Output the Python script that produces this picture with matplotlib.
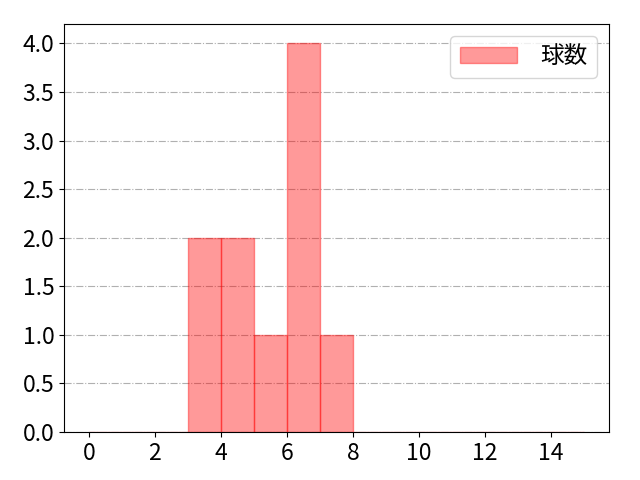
import numpy as np
import matplotlib
matplotlib.use("Agg")
import matplotlib.pyplot as plt

plt.rcParams['font.family'] = ['Noto Sans CJK JP', 'DejaVu Sans']
plt.rcParams['font.size'] = 16.5

# bin edges and counts
bin_edges = list(range(0, 16))
counts = [0, 0, 0, 2, 2, 1, 4, 1, 0, 0, 0, 0, 0, 0, 0]
label = '球数'

fig, ax = plt.subplots(figsize=(6.4, 4.8), dpi=100)
ax.hist(bin_edges[:-1], bins=bin_edges, weights=counts,
        color='red', alpha=0.4, edgecolor='red', linewidth=1, label=label)
ax.grid(True, axis='y', linestyle='-.', color='#b0b0b0')
ax.set_axisbelow(True)
ax.set_xticks(range(0, 16, 2))
ax.set_yticks(np.arange(0, 4.01, 0.5))
ax.legend(loc='upper right', handlelength=2.4, handletextpad=1.0,
          prop={'size': 17})

fig.subplots_adjust(left=0.1, right=0.951, top=0.95, bottom=0.1)
plt.savefig('out.png', dpi=100)
